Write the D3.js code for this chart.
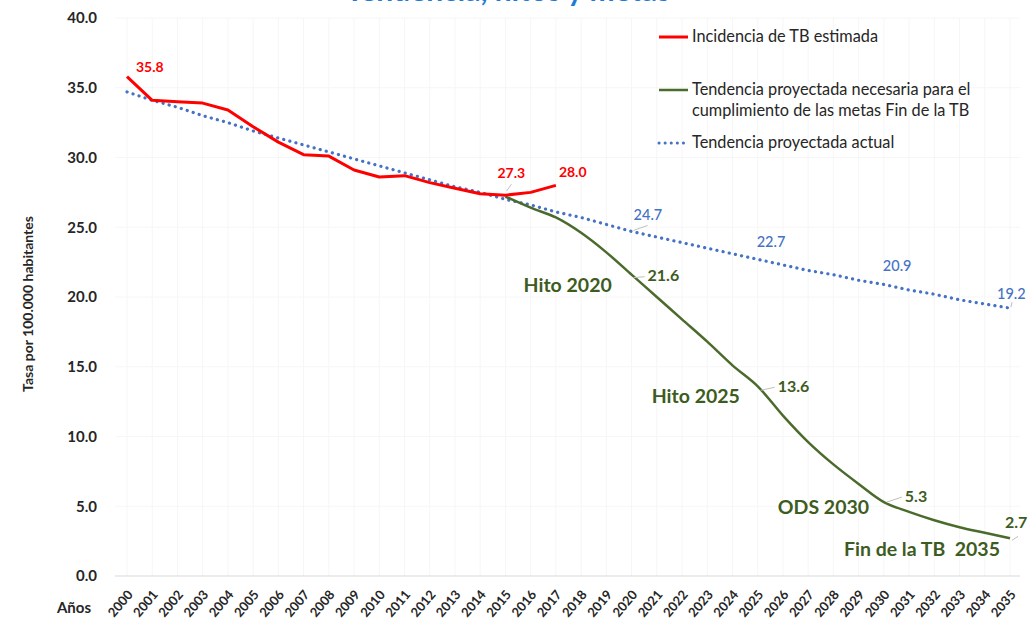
<!DOCTYPE html>
<html><head><meta charset="utf-8">
<script src="https://cdn.jsdelivr.net/npm/d3@7"></script>
<style>
body{margin:0;background:#fff;}
svg{display:block;font-family:Lato,"Open Sans",sans-serif;}
</style></head>
<body><svg id="c" width="1028" height="619"></svg>
<script>
const years = d3.range(2000, 2036);
const redYears = d3.range(2000, 2018);
const redValues = [35.8, 34.1, 34.0, 33.9, 33.4, 32.2, 31.1, 30.2, 30.1, 29.1, 28.6, 28.7, 28.2, 27.8, 27.4, 27.3, 27.5, 28.0];
const greenYears = d3.range(2015, 2036);
const greenValues = [27.2, 26.4, 25.7, 24.6, 23.2, 21.6, 20.0, 18.4, 16.8, 15.1, 13.6, 11.5, 9.6, 8.0, 6.6, 5.3, 4.6, 4.0, 3.5, 3.1, 2.7];
const blueValues = [34.7, 34.1, 33.6, 33.0, 32.5, 31.9, 31.4, 30.9, 30.4, 29.9, 29.4, 28.9, 28.4, 27.9, 27.5, 27.0, 26.6, 26.1, 25.7, 25.2, 24.7, 24.3, 23.9, 23.5, 23.1, 22.7, 22.3, 21.9, 21.6, 21.2, 20.9, 20.5, 20.2, 19.8, 19.5, 19.2];
const yTicks = [0, 5, 10, 15, 20, 25, 30, 35, 40];
const legendLabels = [["Incidencia de TB estimada"], ["Tendencia proyectada necesaria para el", "cumplimiento de las metas Fin de la TB"], ["Tendencia proyectada actual"]];
const titleText = "Tendencia, hitos y metas";
const yTitle = "Tasa por 100.000 habitantes";
const xTitle = "Años";
const redLabels = [[2000, 35.8], [2015, 27.3], [2017, 28.0]];
const blueLabels = [[2020, 24.7], [2025, 22.7], [2030, 20.9], [2035, 19.2]];
const greenLabels = [[2020, 21.6, "Hito 2020"], [2025, 13.6, "Hito 2025"], [2030, 5.3, "ODS 2030"], [2035, 2.7, "Fin de la TB\u00a0 2035"]];

const RED = "#ff0000", GREEN = "#4b6b2c", GTXT = "#3e5c22", BLUE = "#4472c4", TXT = "#262626";
const svg = d3.select("#c");
const x = d3.scaleLinear().domain([2000, 2035]).range([127, 1010]);
const y = d3.scaleLinear().domain([0, 40]).range([576, 18]);

// faint gridlines
svg.append("g").selectAll("line").data(years).join("line")
  .attr("x1", d => x(d)).attr("x2", d => x(d)).attr("y1", y(40)).attr("y2", y(0))
  .attr("stroke", "#f6f6f6").attr("stroke-width", 1);
svg.append("g").selectAll("line").data(yTicks.slice(1)).join("line")
  .attr("x1", 115).attr("x2", 1020).attr("y1", d => y(d)).attr("y2", d => y(d))
  .attr("stroke", "#f6f6f6").attr("stroke-width", 1);
svg.append("line").attr("x1", 115).attr("x2", 1020).attr("y1", y(0)).attr("y2", y(0))
  .attr("stroke", "#d9d9d9").attr("stroke-width", 1);

// title (cut off at top, as in the reference)
svg.append("text").attr("x", 508).attr("y", 1).attr("text-anchor", "middle")
  .attr("font-size", 30).attr("font-weight", 700).attr("fill", "#1f7ad6").text(titleText);

// y axis
const ya = svg.append("g").attr("transform", "translate(104,0)")
  .call(d3.axisLeft(y).tickValues(yTicks).tickFormat(d3.format(".1f")).tickSize(0).tickPadding(7));
ya.select(".domain").remove();
ya.selectAll("text").attr("font-size", 15).attr("font-weight", 700).attr("fill", TXT)
  .attr("font-family", "Lato, sans-serif");

// x axis
const xa = svg.append("g").attr("transform", "translate(0," + y(0) + ")")
  .call(d3.axisBottom(x).tickValues(years).tickFormat(d3.format("d")).tickSize(0));
xa.select(".domain").remove();
xa.selectAll("text").attr("font-size", 13).attr("font-weight", 700).attr("fill", TXT)
  .attr("font-family", "Lato, sans-serif")
  .attr("text-anchor", "end").attr("dy", null).attr("y", 0)
  .attr("transform", "translate(6,19) rotate(-50)");

svg.append("text").attr("x", 74).attr("y", 613).attr("text-anchor", "middle")
  .attr("font-size", 15).attr("font-weight", 700).attr("fill", TXT).text(xTitle);
svg.append("text").attr("transform", "translate(33,304) rotate(-90)").attr("text-anchor", "middle")
  .attr("font-size", 14).attr("font-weight", 700).attr("fill", TXT).text(yTitle);

// lines
const blueLine = d3.line().x((d, i) => x(years[i])).y(d => y(d));
svg.append("path").datum(blueValues).attr("d", blueLine).attr("fill", "none")
  .attr("stroke", BLUE).attr("stroke-width", 3.2).attr("stroke-linecap", "round")
  .attr("stroke-dasharray", "0.1,6.2");
const greenLine = d3.line().x((d, i) => x(greenYears[i])).y(d => y(d)).curve(d3.curveCatmullRom.alpha(0.5));
svg.append("path").datum(greenValues).attr("d", greenLine).attr("fill", "none")
  .attr("stroke", GREEN).attr("stroke-width", 2.5);
const redLine = d3.line().x((d, i) => x(redYears[i])).y(d => y(d));
svg.append("path").datum(redValues).attr("d", redLine).attr("fill", "none")
  .attr("stroke", RED).attr("stroke-width", 3).attr("stroke-linejoin", "round");

function leader(x1, y1, x2, y2) {
  svg.append("line").attr("x1", x1).attr("y1", y1).attr("x2", x2).attr("y2", y2)
    .attr("stroke", "#bfbfbf").attr("stroke-width", 1);
}

// red labels
const redOff = [[9, -5], [-8, -17], [3, -8]];
redLabels.forEach((d, i) => {
  if (i === 1) leader(x(d[0]) + 1, y(d[1]) - 4, x(d[0]) + 6, y(d[1]) - 11);
  svg.append("text").attr("x", x(d[0]) + redOff[i][0]).attr("y", y(d[1]) + redOff[i][1])
    .attr("font-size", 14).attr("font-weight", 700).attr("fill", RED).text(d[1].toFixed(1));
});

// blue labels
const blueOff = [[2, -11], [-1, -12], [-1, -13], [-13, -9]];
blueLabels.forEach((d, i) => {
  const px = x(d[0]), py = y(d[1]);
  if (i === 0) leader(px + 2, py - 1, px + 16, py - 6);
  if (i === 3) leader(px + 1, py - 1, px + 2, py - 6);
  svg.append("text").attr("x", px + blueOff[i][0]).attr("y", py + blueOff[i][1])
    .attr("font-size", 14.5).attr("fill", BLUE).attr("font-weight", 500).text(d[1].toFixed(1));
});

// green labels
const gValOff = [[16, 6], [20, 6], [21, 0], [-5, -10]];
const gNameOff = [[-108, 17], [-106, 17], [-106, 12], [-10, 18]];
greenLabels.forEach((d, i) => {
  const px = x(d[0]), py = y(d[1]);
  if (i === 0) leader(px + 2, py + 3, px + 13, py + 2);
  if (i === 1) leader(px + 3, py + 4, px + 17, py + 1);
  if (i === 2) leader(px + 3, py, px + 18, py - 5);
  if (i === 3) leader(px + 2, py + 2, px + 8, py - 2);
  svg.append("text").attr("x", px + gValOff[i][0]).attr("y", py + gValOff[i][1])
    .attr("font-size", 16).attr("font-weight", 700).attr("fill", GTXT).text(d[1].toFixed(1));
  svg.append("text").attr("x", px + gNameOff[i][0]).attr("y", py + gNameOff[i][1])
    .attr("text-anchor", i === 3 ? "end" : "start")
    .attr("font-size", 19.5).attr("font-weight", 700).attr("fill", GTXT).text(d[2]);
});

// legend
const lg = svg.append("g");
const legendY = [37, 90, 143];
const legendStyle = [[RED, 3, null], [GREEN, 2.5, null], [BLUE, 3, "0.1,6"]];
legendLabels.forEach((lines, i) => {
  lg.append("line").attr("x1", 659).attr("x2", 688).attr("y1", legendY[i]).attr("y2", legendY[i])
    .attr("stroke", legendStyle[i][0]).attr("stroke-width", legendStyle[i][1])
    .attr("stroke-linecap", legendStyle[i][2] ? "round" : "butt")
    .attr("stroke-dasharray", legendStyle[i][2]);
  lines.forEach((t, j) => {
    lg.append("text").attr("x", 692).attr("y", legendY[i] + 5 + j * 21)
      .attr("font-size", 16.3).attr("fill", TXT).text(t);
  });
});
</script></body></html>
